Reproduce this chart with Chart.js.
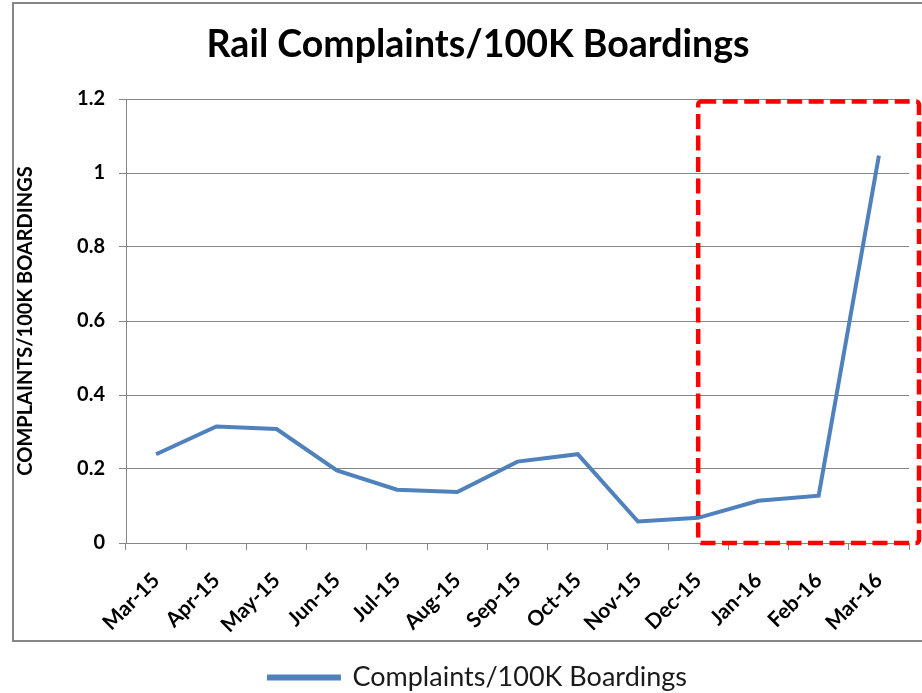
<!DOCTYPE html>
<html>
<head>
<meta charset="utf-8">
<script src="https://cdn.jsdelivr.net/npm/chart.js@4/dist/chart.umd.min.js"></script>
<style>
  html, body { margin: 0; padding: 0; background: #fff; overflow: hidden; }
  #wrap { position: relative; width: 922px; height: 701px; }
</style>
</head>
<body>
<div id="wrap"><canvas id="c"></canvas></div>
<script>
const categories = ['Mar-15','Apr-15','May-15','Jun-15','Jul-15','Aug-15','Sep-15','Oct-15','Nov-15','Dec-15','Jan-16','Feb-16','Mar-16'];
const complaints = [0.24, 0.315, 0.308, 0.196, 0.144, 0.138, 0.22, 0.24, 0.058, 0.068, 0.114, 0.128, 1.047];
const yTicks = [0, 0.2, 0.4, 0.6, 0.8, 1, 1.2];
const highlightStart = 'Dec-15';
const seriesLabel = 'Complaints/100K Boardings';
const chartTitle = 'Rail Complaints/100K Boardings';
const yAxisTitle = 'COMPLAINTS/100K BOARDINGS';

const GRID = '#868686';
const LINE = '#4F81BD';

const frame = {
  id: 'frame',
  beforeDraw(chart) {
    const ctx = chart.ctx;
    ctx.save();
    ctx.strokeStyle = GRID;
    ctx.lineWidth = 2;
    ctx.strokeRect(13, 3, 940, 638);
    ctx.restore();
  }
};

const highlight = {
  id: 'highlight',
  afterDatasetsDraw(chart) {
    const x = chart.scales.x, y = chart.scales.y, ca = chart.chartArea;
    const left = x.getPixelForValue(categories.indexOf(highlightStart));
    const right = ca.right + 10;
    const top = y.getPixelForValue(yTicks[yTicks.length - 1]) + 2.5;
    const bottom = y.getPixelForValue(0);
    const ctx = chart.ctx;
    ctx.save();
    ctx.strokeStyle = '#FF0000';
    ctx.lineWidth = 4.5;
    ctx.setLineDash([15, 6.5]);
    ctx.lineJoin = 'round';
    ctx.beginPath();
    if (ctx.roundRect) ctx.roundRect(left, top, right - left, bottom - top, 3);
    else ctx.rect(left, top, right - left, bottom - top);
    ctx.stroke();
    ctx.restore();
  }
};

new Chart(document.getElementById('c'), {
  type: 'line',
  data: {
    labels: categories,
    datasets: [{
      label: seriesLabel,
      data: complaints,
      borderColor: LINE,
      backgroundColor: LINE,
      borderWidth: 4,
      pointRadius: 0,
      tension: 0,
      fill: false
    }]
  },
  options: {
    responsive: true,
    maintainAspectRatio: false,
    animation: false,
    layout: { padding: { left: 47, right: 13, top: 0, bottom: 0 } },
    plugins: {
      title: {
        display: true,
        text: chartTitle,
        color: '#000',
        font: { family: 'Lato', size: 37.5, weight: 'bold', lineHeight: 1.2 },
        padding: { top: 22, bottom: 32 }
      },
      legend: {
        display: true,
        position: 'bottom',
        labels: {
          color: '#1a1a1a',
          font: { family: 'Lato', size: 27 },
          boxWidth: 70,
          boxHeight: 2,
          padding: 10
        }
      },
      tooltip: { enabled: false }
    },
    scales: {
      x: {
        offset: true,
        grid: { drawOnChartArea: false, drawTicks: true, tickLength: 7, offset: true, color: GRID, lineWidth: 1 },
        border: { display: true, color: GRID, width: 1 },
        ticks: {
          color: '#000',
          font: { family: 'Lato', size: 21, weight: 'bold' },
          maxRotation: 45, minRotation: 45, autoSkip: false, padding: 18
        },
        afterFit(axis) { axis.height = 111; }
      },
      y: {
        min: 0, max: 1.2,
        afterBuildTicks(axis) { axis.ticks = yTicks.map(v => ({ value: v })); },
        grid: { color: GRID, lineWidth: 1, tickLength: 7, drawTicks: true },
        border: { display: true, color: GRID, width: 1 },
        ticks: {
          color: '#000',
          font: { family: 'Lato', size: 20, weight: 'bold' },
          padding: 14,
          callback: (v) => String(Number(v))
        },
        title: {
          display: true,
          text: yAxisTitle,
          color: '#000',
          font: { family: 'Lato', size: 20, weight: 'bold', lineHeight: 1.2 },
          padding: { top: -33.5, bottom: 0 }
        },
        afterFit(axis) { axis.width = 79; }
      }
    }
  },
  plugins: [frame, highlight]
});
</script>
</body>
</html>
